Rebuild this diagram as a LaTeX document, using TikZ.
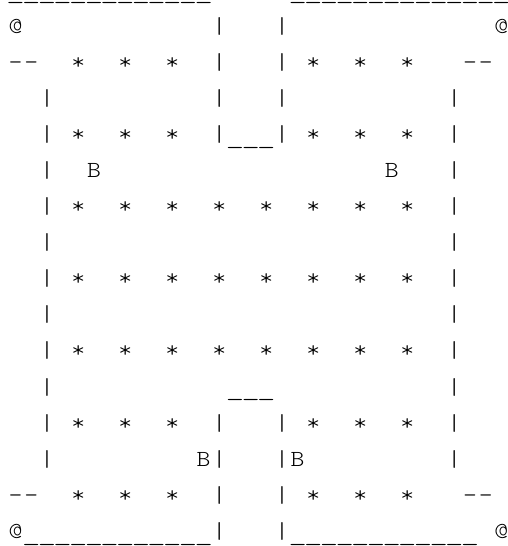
\documentclass[tikz,border=0pt]{standalone}
\usepackage{fontspec}
\usepackage{graphicx}
\newfontfamily\asc{lmmonolt10-regular.otf}[FakeStretch=1.15]
\ExplSyntaxOn
\dim_new:N \l_cw_dim
\dim_set:Nn \l_cw_dim {7.835pt}
\NewDocumentCommand \asciirow { m }
 {
   \tl_map_inline:nn {#1}
    {
      \str_case:nnF {##1}
       {
         {.} { \hbox_to_wd:nn {\l_cw_dim} {} }
         {U} { \hbox_to_wd:nn {\l_cw_dim} { \hss \raisebox{-1.4pt}{\scalebox{1.32}[1]{\textunderscore}} \hss } }
       }
       { \hbox_to_wd:nn {\l_cw_dim} { \hfil ##1 \hfil } }
    }
 }
\ExplSyntaxOff
\newcommand\asciifont{\asc\fontsize{11.5pt}{14pt}\selectfont}
\begin{document}
\begin{tikzpicture}[x=0.5pt,y=-0.5pt,
  row/.style={anchor=base west, inner sep=0pt, outer sep=0pt, font=\asciifont, text=black}]
\useasboundingbox (0,0) rectangle (508,546);
\node[row] (r0)  at (7.8,-3.1)  {\asciirow{UUUUUUUUUUUUU.....UUUUUUUUUUUUUU}};
\node[row] (r1)  at (7.8,33.0)  {\asciirow{@............|...|.............@}};
\node[row] (r2)  at (7.8,69.1)  {\asciirow{--..*..*..*..|...|.*..*..*...--}};
\node[row] (r3)  at (7.8,105.2) {\asciirow{..|..........|...|..........|}};
\node[row] (r4)  at (7.8,141.3) {\asciirow{..|.*..*..*..|UUU|.*..*..*..|}};
\node[row] (r5)  at (7.8,177.4) {\asciirow{..|..B..................B...|}};
\node[row] (r6)  at (7.8,213.5) {\asciirow{..|.*..*..*..*..*..*..*..*..|}};
\node[row] (r7)  at (7.8,249.6) {\asciirow{..|.........................|}};
\node[row] (r8)  at (7.8,285.7) {\asciirow{..|.*..*..*..*..*..*..*..*..|}};
\node[row] (r9)  at (7.8,321.8) {\asciirow{..|.........................|}};
\node[row] (r10) at (7.8,357.9) {\asciirow{..|.*..*..*..*..*..*..*..*..|}};
\node[row] (r11) at (7.8,394.0) {\asciirow{..|...........UUU...........|}};
\node[row] (r12) at (7.8,430.1) {\asciirow{..|.*..*..*..|...|.*..*..*..|}};
\node[row] (r13) at (7.8,466.2) {\asciirow{..|.........B|...|B.........|}};
\node[row] (r14) at (7.8,502.3) {\asciirow{--..*..*..*..|...|.*..*..*...--}};
\node[row] (r15) at (7.8,538.4) {\asciirow{@UUUUUUUUUUUU|...|UUUUUUUUUUUU.@}};
\end{tikzpicture}
\end{document}
